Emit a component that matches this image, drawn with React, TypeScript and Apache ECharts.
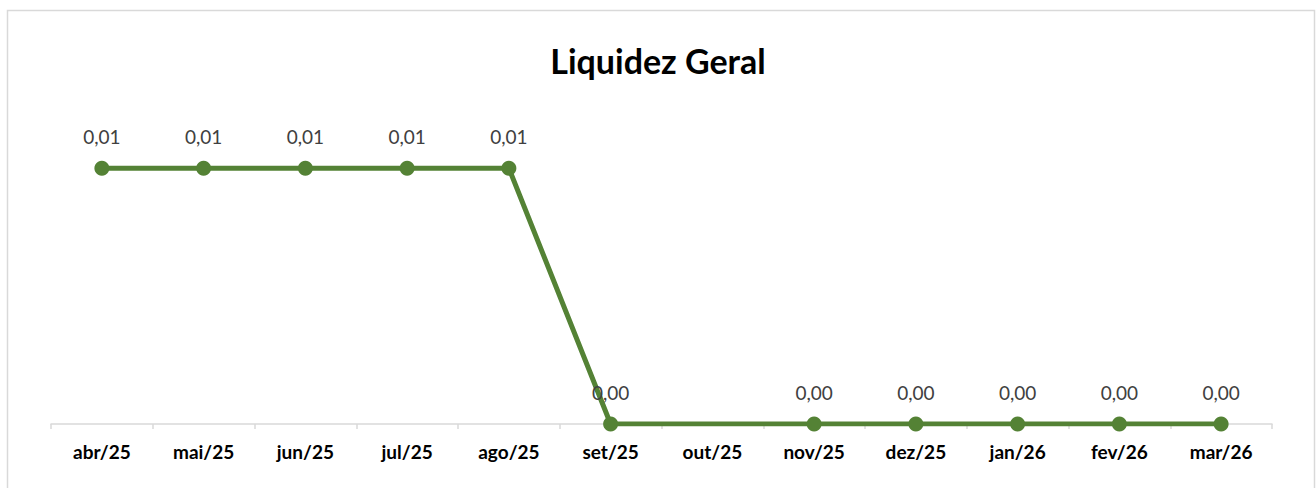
import React, { useEffect, useRef } from "react";
import * as echarts from "echarts";

const categories = ["abr/25", "mai/25", "jun/25", "jul/25", "ago/25", "set/25", "out/25", "nov/25", "dez/25", "jan/26", "fev/26", "mar/26"];
const values: (number | null)[] = [0.01, 0.01, 0.01, 0.01, 0.01, 0, null, 0, 0, 0, 0, 0];
const title = "Liquidez Geral";

export default function App() {
  const ref = useRef<HTMLDivElement>(null);
  useEffect(() => {
    const chart = echarts.init(ref.current!, null, { renderer: "svg" });
    chart.setOption({
      animation: false,
      backgroundColor: "#ffffff",
      textStyle: { fontFamily: "Lato, 'Open Sans', sans-serif" },
      title: {
        text: title,
        left: "center",
        top: 38,
        textStyle: { fontSize: 34, fontWeight: "bold", color: "#000000", fontFamily: "Lato, 'Open Sans', sans-serif" },
      },
      graphic: [
        {
          type: "rect",
          shape: { x: 7.5, y: 10.5, width: 1307, height: 490 },
          style: { fill: "none", stroke: "#d9d9d9", lineWidth: 1.5 },
          silent: true,
        },
      ],
      grid: { left: 51, right: 44, top: 117, bottom: 64 },
      xAxis: {
        type: "category",
        data: categories,
        boundaryGap: true,
        axisLine: { lineStyle: { color: "#d9d9d9", width: 1.5 } },
        axisTick: { show: true, alignWithLabel: false, length: 5, lineStyle: { color: "#d9d9d9", width: 1.5 } },
        axisLabel: { color: "#000000", fontWeight: "bold", fontSize: 19, margin: 18, fontFamily: "Lato, 'Open Sans', sans-serif" },
      },
      yAxis: {
        type: "value",
        min: 0,
        max: 0.012,
        show: false,
        splitLine: { show: false },
      },
      series: [
        {
          type: "line",
          data: values,
          connectNulls: true,
          symbol: "circle",
          symbolSize: 15,
          itemStyle: { color: "#548235" },
          lineStyle: { color: "#548235", width: 5 },
          label: {
            show: true,
            position: "top",
            distance: 15,
            color: "#404040",
            fontSize: 19,
            fontFamily: "Lato, 'Open Sans', sans-serif",
            formatter: (p: any) => (p.value == null ? "" : Number(p.value).toFixed(2).replace(".", ",")),
          },
        },
      ],
    });
    return () => chart.dispose();
  }, []);
  return <div ref={ref} style={{ position: "absolute", left: 0, top: 0, width: 1316, height: 488 }} />;
}
